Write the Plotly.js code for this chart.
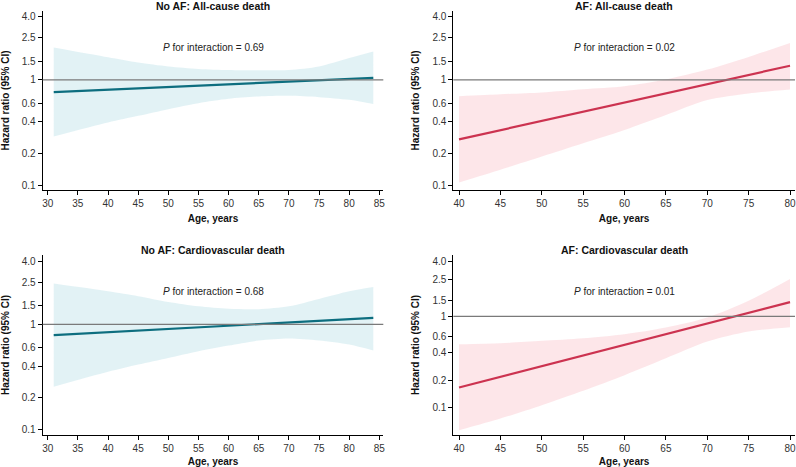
<!DOCTYPE html>
<html>
<head>
<meta charset="utf-8">
<script src="https://cdn.plot.ly/plotly-3.0.1.min.js"></script>
<style>html,body{margin:0;padding:0;background:#fff;}#chart{width:796px;height:467px;}</style>
</head>
<body>
<div id="chart"></div>
<script>
// ---- Data ----
// CI bands
const agesNoAF = [31, 40, 45, 50, 55, 60, 65, 70, 75, 80, 84];
const upNoAFAll    = [2.03, 1.64, 1.46, 1.34, 1.27, 1.24, 1.23, 1.24, 1.34, 1.61, 1.86];
const loNoAFAll    = [0.29, 0.394, 0.455, 0.527, 0.60, 0.66, 0.695, 0.705, 0.685, 0.646, 0.59];
const upNoAFCV     = [2.45, 2.07, 1.86, 1.64, 1.49, 1.41, 1.40, 1.49, 1.75, 2.07, 2.28];
const loNoAFCV     = [0.255, 0.354, 0.415, 0.48, 0.557, 0.63, 0.703, 0.735, 0.703, 0.644, 0.565];
const agesAF = [40, 45, 50, 55, 60, 65, 70, 75, 80];
const upAFAll      = [0.70, 0.73, 0.76, 0.815, 0.87, 1.007, 1.25, 1.65, 2.24];
const loAFAll      = [0.106, 0.14, 0.187, 0.25, 0.334, 0.463, 0.643, 0.743, 0.81];
const upAFCV       = [0.495, 0.508, 0.54, 0.577, 0.638, 0.755, 0.972, 1.48, 2.56];
const loAFCV       = [0.0569, 0.0764, 0.107, 0.154, 0.228, 0.348, 0.53, 0.682, 0.76];
// Hazard-ratio lines (straight on the log scale): start, middle, end
const lineAgesNoAF = [31, 57.5, 84];
const hrNoAFAll    = [0.764, 0.893, 1.045];
const hrNoAFCV     = [0.79, 0.955, 1.156];
const lineAgesAF   = [40, 60, 80];
const hrAFAll      = [0.272, 0.608, 1.36];
const hrAFCV       = [0.167, 0.489, 1.43];

const panelTitles = ["No AF: All-cause death", "AF: All-cause death",
                     "No AF: Cardiovascular death", "AF: Cardiovascular death"];
const pValues = ["0.69", "0.02", "0.68", "0.01"];
const yTickVals = [0.1, 0.2, 0.4, 0.6, 1, 1.5, 2.5, 4.0];
const yTickText = ["0.1", "0.2", "0.4", "0.6", "1", "1.5", "2.5", "4.0"];
const xTitle = "Age, years";
const yTitle = "Hazard ratio (95% CI)";

// ---- Styles ----
const TEAL = "#0d6e7f", TEAL_FILL = "rgba(216,237,241,0.75)";
const RED = "#cc3350", RED_FILL = "rgba(252,221,225,0.75)";
const FONT = "Liberation Sans, Arial, sans-serif";

const panels = [
  {ages: agesNoAF, up: upNoAFAll, lo: loNoAFAll, la: lineAgesNoAF, hr: hrNoAFAll, c: TEAL, f: TEAL_FILL, ax: ""},
  {ages: agesAF,   up: upAFAll,   lo: loAFAll,   la: lineAgesAF,   hr: hrAFAll,   c: RED,  f: RED_FILL,  ax: "2"},
  {ages: agesNoAF, up: upNoAFCV,  lo: loNoAFCV,  la: lineAgesNoAF, hr: hrNoAFCV,  c: TEAL, f: TEAL_FILL, ax: "3"},
  {ages: agesAF,   up: upAFCV,    lo: loAFCV,    la: lineAgesAF,   hr: hrAFCV,    c: RED,  f: RED_FILL,  ax: "4"}
];

const traces = [];
panels.forEach(p => {
  const xa = "x" + p.ax, ya = "y" + p.ax;
  traces.push({x: p.ages, y: p.lo, xaxis: xa, yaxis: ya, mode: "lines",
    line: {width: 0, shape: "spline", smoothing: 0.8}, hoverinfo: "skip", showlegend: false});
  traces.push({x: p.ages, y: p.up, xaxis: xa, yaxis: ya, mode: "lines", fill: "tonexty",
    fillcolor: p.f, line: {width: 0, shape: "spline", smoothing: 0.8}, hoverinfo: "skip", showlegend: false});
  traces.push({x: p.la, y: p.hr, xaxis: xa, yaxis: ya, mode: "lines",
    line: {color: p.c, width: 2.2}, showlegend: false});
});

const W = 796, H = 467;
const xdomL = [42.7 / W, 383.3 / W], xdomR = [453.3 / W, 795 / W];
const ydomT = [1 - 190 / H, 1 - 11 / H], ydomB = [1 - 435 / H, 1 - 255 / H];

function xaxis(dom, range, anchor) {
  return {domain: dom, range: range, anchor: anchor, dtick: 5, tick0: 0,
    showline: true, linecolor: "#000", linewidth: 1, ticks: "outside", ticklen: 4,
    tickcolor: "#000", tickwidth: 1, showgrid: false, zeroline: false,
    ticklabeloverflow: "allow",
    tickfont: {family: FONT, size: 10, color: "#333"},
    title: {text: "<b>" + xTitle + "</b>", font: {family: FONT, size: 10, color: "#111"}, standoff: 6}};
}
function yaxis(dom, range, anchor) {
  return {domain: dom, type: "log", range: range.map(Math.log10), anchor: anchor,
    tickvals: yTickVals, ticktext: yTickText,
    showline: true, linecolor: "#000", linewidth: 1, ticks: "outside", ticklen: 4,
    tickcolor: "#000", tickwidth: 1, showgrid: false, zeroline: false,
    tickfont: {family: FONT, size: 10, color: "#333"},
    title: {text: "<b>" + yTitle + "</b>", font: {family: FONT, size: 10, color: "#111"}, standoff: 10}};
}

const layout = {
  width: W, height: H, margin: {l: 0, r: 0, t: 0, b: 0},
  paper_bgcolor: "#fff", plot_bgcolor: "#fff", showlegend: false,
  xaxis:  xaxis(xdomL, [29.17, 85.66], "y"),
  yaxis:  yaxis(ydomT, [0.09, 4.5], "x"),
  xaxis2: xaxis(xdomR, [39.31, 80.6], "y2"),
  yaxis2: yaxis(ydomT, [0.09, 4.5], "x2"),
  xaxis3: xaxis(xdomL, [29.17, 85.66], "y3"),
  yaxis3: yaxis(ydomB, [0.0885, 4.59], "x3"),
  xaxis4: xaxis(xdomR, [39.31, 80.6], "y4"),
  yaxis4: yaxis(ydomB, [0.0506, 4.68], "x4"),
  shapes: [], annotations: []
};

["", "2", "3", "4"].forEach((s, i) => {
  const xr = "x" + s, yr = "y" + s;
  layout.shapes.push({type: "line", xref: xr + " domain", yref: yr, x0: 0, x1: 1, y0: 1, y1: 1,
    line: {color: "#7a7a7a", width: 1.2}, layer: "above"});
  layout.annotations.push({xref: xr + " domain", yref: yr + " domain", x: 0.5, y: 1,
    xanchor: "center", yanchor: "bottom", yshift: -3, showarrow: false,
    text: "<b>" + panelTitles[i] + "</b>", font: {family: FONT, size: 10.5, color: "#111"}});
  layout.annotations.push({xref: xr + " domain", yref: yr + " domain", x: 0.5, y: 0.795,
    xanchor: "center", yanchor: "middle", showarrow: false,
    text: "<i>P</i> for interaction = " + pValues[i], font: {family: FONT, size: 10, color: "#222"}});
});

Plotly.newPlot("chart", traces, layout, {staticPlot: true, displayModeBar: false});
</script>
</body>
</html>
